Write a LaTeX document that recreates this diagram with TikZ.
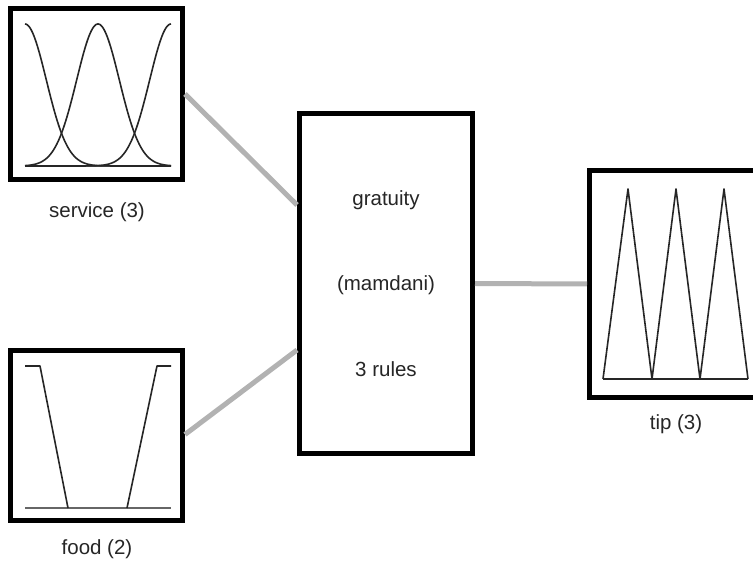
\documentclass[tikz,border=0pt]{standalone}
\usepackage{fontspec}
\setmainfont{Liberation Sans}
\begin{document}
\begin{tikzpicture}[x=1pt,y=-1pt,
  mfbox/.style={draw=black,line width=5pt,fill=white,rectangle,inner sep=0pt},
  link/.style={draw=black!30,line width=5pt},
  curve/.style={draw=black!85,line width=1.6pt,line join=round},
  base/.style={draw=black!60,line width=1.8pt},
  lbl/.style={font=\fontsize{20.5}{24}\selectfont,text=black!85,inner sep=0pt}]
\useasboundingbox (0,0) rectangle (753,561);
\clip (0,0) rectangle (753,561);
% boxes
\node[mfbox,minimum width=172pt,minimum height=171pt] (s) at (96.5,94) {};
\node[mfbox,minimum width=172pt,minimum height=170pt] (f) at (96.5,435.5) {};
\node[mfbox,minimum width=173pt,minimum height=340pt] (c) at (386,283.5) {};
\node[mfbox,minimum width=172pt,minimum height=227pt] (t) at (675.5,284) {};
% connectors
\draw[link] (s.east) -- ([yshift=78.5pt]c.west);
\draw[link] ([yshift=1pt]f.east) -- ([yshift=-66.5pt]c.west);
\draw[link] (c.east) -- (t.west);
% central text
\node[lbl] (c1) at (386,200) {gratuity};
\node[lbl] (c2) at (386,285) {(mamdani)};
\node[lbl] (c3) at (386,369) {3 rules};
% labels
\node[lbl] (sl) at (97,212) {service (3)};
\node[lbl] (fl) at (97,549) {food (2)};
\node[lbl] (tl) at (676,424) {tip (3)};
% service membership functions
\draw[base] (25,166) -- (171,166);
\foreach \m in {25,98,171}{
  \draw[curve] plot[domain=25:171,samples=120,smooth] (\x,{166-142*exp(-0.5*((\x-\m)/21.3)^2)});
}
% food membership functions
\draw[base] (25,508) -- (171,508);
\draw[curve] (25,366) -- (40,366) -- (68,508);
\draw[curve] (127,508) -- (157,366) -- (171,366);
% tip membership functions
\draw[curve] (603,379) -- (748,379);
\draw[curve] (603,379) -- (628,189) -- (652,379) -- (676,189) -- (700,379) -- (724,189) -- (748,379);
\end{tikzpicture}
\end{document}
